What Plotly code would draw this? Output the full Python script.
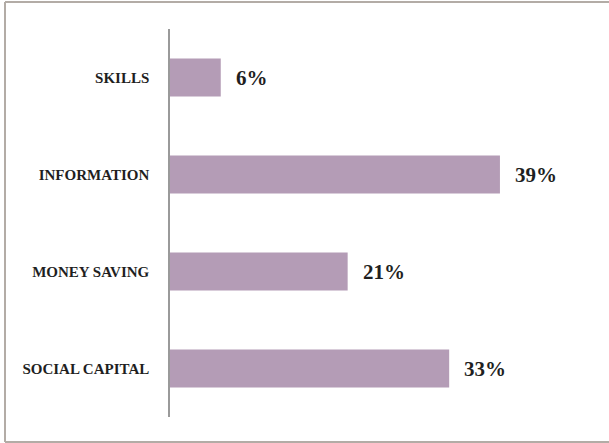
import plotly.graph_objects as go

# Share of respondents by reason
categories = ["SKILLS", "INFORMATION", "MONEY SAVING", "SOCIAL CAPITAL"]
values = [6, 39, 21, 33]
value_labels = ["6%", "39%", "21%", "33%"]

bar_color = "#B49CB6"
text_color = "#1f1f1f"
frame_color = "#b3aca6"
serif = "Liberation Serif, DejaVu Serif, serif"

fig = go.Figure(
    go.Bar(
        x=values,
        y=categories,
        orientation="h",
        marker=dict(color=bar_color, line=dict(width=0)),
        hoverinfo="skip",
    )
)

# value labels just beyond each bar end
for cat, val, lab in zip(categories, values, value_labels):
    fig.add_annotation(
        x=val, y=cat, text=f"<b>{lab}</b>", showarrow=False,
        xanchor="left", yanchor="middle", xshift=13,
        font=dict(family=serif, size=21, color=text_color),
    )

# frame around the chart: top, left and bottom edges (open on the right)
fx0, fx1 = -165 / 423, 1 + 16 / 423
fy0, fy1 = -25 / 388, 1 + 27 / 388
frame = [
    dict(x0=fx0, x1=fx1, y0=fy1, y1=fy1),
    dict(x0=fx0, x1=fx0, y0=fy0, y1=fy1),
    dict(x0=fx0, x1=fx1, y0=fy0, y1=fy0),
]
shapes = [
    dict(type="line", xref="paper", yref="paper",
         line=dict(color=frame_color, width=2), **seg)
    for seg in frame
]

fig.update_layout(
    width=609, height=443,
    margin=dict(l=170, r=16, t=29, b=26),
    paper_bgcolor="white", plot_bgcolor="white",
    bargap=0.61,
    showlegend=False,
    xaxis=dict(range=[0, 50], visible=False, fixedrange=True),
    yaxis=dict(
        categoryorder="array", categoryarray=categories[::-1],
        showline=True, linecolor="#9a9a9a", linewidth=1.5,
        showgrid=False, zeroline=False, ticks="",
        ticklabelstandoff=16,
        tickfont=dict(family=serif, size=15, color=text_color),
        tickprefix="<b>", ticksuffix="</b>",
        fixedrange=True,
    ),
    shapes=shapes,
)

fig.write_html("out.html")
